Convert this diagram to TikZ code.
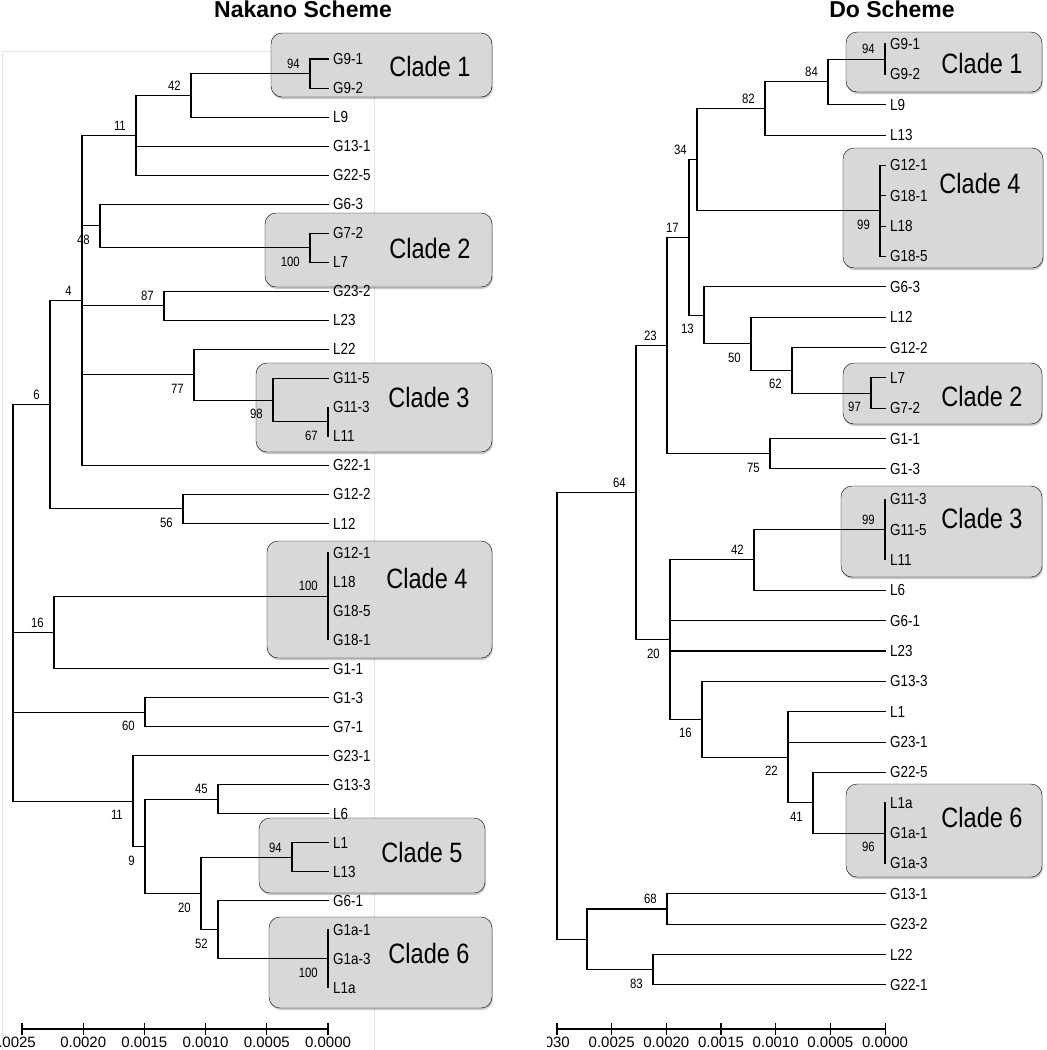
\documentclass[tikz,border=0pt]{standalone}
\usepackage{fontspec}
\setmainfont{Liberation Sans}
\newfontfamily\treefont[FakeStretch=0.84]{Liberation Sans}
\usetikzlibrary{calc,shadows}
\definecolor{cladegray}{RGB}{216,216,216}
\definecolor{framegray}{RGB}{230,230,230}

\begin{document}
\begin{tikzpicture}[x=1pt,y=-1pt,
  branch/.style={line width=1.05pt,line cap=rect},
  leaf/.style={anchor=west,inner sep=0pt,xshift=5pt,font=\treefont\fontsize{16}{16}\selectfont},
  bsa/.style={anchor=south east,inner sep=0pt,xshift=-10pt,yshift=5pt,font=\treefont\fontsize{13.5}{13.5}\selectfont},
  bsb/.style={anchor=north east,inner sep=0pt,xshift=-10pt,yshift=-9pt,font=\treefont\fontsize{13.5}{13.5}\selectfont},
  cladebox/.style={fill=cladegray,rounded corners=11pt,
    drop shadow={shadow xshift=0.8pt,shadow yshift=-2pt,fill=black,opacity=0.22}},
  cladetxt/.style={inner sep=0pt,font=\treefont\fontsize{28}{28}\selectfont},
  ttl/.style={anchor=base,inner sep=0pt,font=\bfseries\fontsize{23}{23}\selectfont},
  ticklbl/.style={anchor=north,inner sep=0pt,font=\fontsize{15}{15}\selectfont}]
\useasboundingbox (0,0) rectangle (1047,1050);

% Titles
\node[ttl] (ttlA) at (303,17.5) {Nakano Scheme};
\node[ttl] (ttlB) at (892,17.5) {Do Scheme};

% Frame of the left tree
\draw[framegray,line width=0.8pt] (2,1050) -- (2,51) -- (374,51) -- (374,1050);

% Clade boxes, left
\draw[cladebox] (271,33) rectangle (492,97);
\node[cladetxt] (cA1) at (430,66) {Clade 1};
\draw[cladebox] (265,213) rectangle (492,287);
\node[cladetxt] (cA2) at (430,248) {Clade 2};
\draw[cladebox] (256,363) rectangle (492,452);
\node[cladetxt] (cA3) at (429,397) {Clade 3};
\draw[cladebox] (267,541) rectangle (492,658);
\node[cladetxt] (cA4) at (427,578) {Clade 4};
\draw[cladebox] (259,818) rectangle (485,893);
\node[cladetxt] (cA5) at (422,852) {Clade 5};
\draw[cladebox] (269,917) rectangle (492,1008);
\node[cladetxt] (cA6) at (429,953) {Clade 6};

% Clade boxes, right
\draw[cladebox] (846,32) rectangle (1042,92);
\node[cladetxt] (cB1) at (982,63) {Clade 1};
\draw[cladebox] (843,148) rectangle (1043,268);
\node[cladetxt] (cB4) at (980,183) {Clade 4};
\draw[cladebox] (843,363) rectangle (1042,424);
\node[cladetxt] (cB2) at (982,396) {Clade 2};
\draw[cladebox] (841,486) rectangle (1042,577);
\node[cladetxt] (cB3) at (982,518) {Clade 3};
\draw[cladebox] (846,784) rectangle (1042,877);
\node[cladetxt] (cB6) at (982,817) {Clade 6};

% Nakano tree (y in leaf rows)
\begin{scope}[yshift=-59pt,y=-29.03pt]
\foreach \n/\lbl [count=\i from 0] in {G91/G9-1,G92/G9-2,L9/L9,G131/G13-1,G225/G22-5,
  G63/G6-3,G72/G7-2,L7/L7,G232/G23-2,L23/L23,L22/L22,G115/G11-5,G113/G11-3,L11/L11,
  G221/G22-1,G122/G12-2,L12/L12,G121/G12-1,L18/L18,G185/G18-5,G181/G18-1,G11/G1-1,
  G13/G1-3,G71/G7-1,G231/G23-1,G133/G13-3,L6/L6,L1/L1,L13/L13,G61/G6-1,
  G1a1/G1a-1,G1a3/G1a-3,L1a/L1a}{
  \coordinate (a\n) at (328,\i);
  \node[leaf] (ta\n) at (a\n) {\lbl};
}
\coordinate (a94) at (310,0.5);
\coordinate (a42) at (191,1.25);
\coordinate (a11) at (136,2.625);
\coordinate (a100b) at (310,6.5);
\coordinate (a48) at (100,5.75);
\coordinate (a87) at (164,8.5);
\coordinate (a67) at (328,12.5);
\coordinate (a98) at (273,11.75);
\coordinate (a77) at (194,10.875);
\coordinate (a4) at (82,8.3125);
\coordinate (a56) at (183,15.5);
\coordinate (a6) at (50,11.906);
\coordinate (a100d) at (328,18.5);
\coordinate (a16) at (54,19.75);
\coordinate (a60) at (145,22.5);
\coordinate (a45) at (218,25.5);
\coordinate (a94e) at (292,27.5);
\coordinate (a100f) at (328,31);
\coordinate (a52) at (218,30);
\coordinate (a20) at (201,28.75);
\coordinate (a9) at (145,27.125);
\coordinate (a11b) at (133,25.5625);
\coordinate (aR) at (13,18.734);
\foreach \p/\c in {a94/aG91,a94/aG92,a42/a94,a42/aL9,a11/a42,a11/aG131,a11/aG225,
  a100b/aG72,a100b/aL7,a48/aG63,a48/a100b,a87/aG232,a87/aL23,a67/aG113,a67/aL11,
  a98/aG115,a98/a67,a77/aL22,a77/a98,a4/a11,a4/a48,a4/a87,a4/a77,a4/aG221,
  a56/aG122,a56/aL12,a6/a4,a6/a56,a100d/aG121,a100d/aL18,a100d/aG185,a100d/aG181,
  a16/a100d,a16/aG11,a60/aG13,a60/aG71,a45/aG133,a45/aL6,a94e/aL1,a94e/aL13,
  a100f/aG1a1,a100f/aG1a3,a100f/aL1a,a52/aG61,a52/a100f,a20/a94e,a20/a52,
  a9/a45,a9/a20,a11b/aG231,a11b/a9,aR/a6,aR/a16,aR/a60,aR/a11b}
  \draw[branch] (\p) |- (\c);
\foreach \c/\v/\s in {a94/94/bsa,a42/42/bsa,a11/11/bsa,a100b/100/bsb,a48/48/bsb,
  a87/87/bsa,a67/67/bsb,a98/98/bsb,a77/77/bsb,a4/4/bsa,a56/56/bsb,a6/6/bsa,
  a100d/100/bsa,a16/16/bsa,a60/60/bsb,a45/45/bsa,a94e/94/bsa,a100f/100/bsb,
  a52/52/bsb,a20/20/bsb,a9/9/bsb,a11b/11/bsb}
  \node[\s] (s\c) at (\c) {\v};
\end{scope}

% Do tree (y in leaf rows)
\begin{scope}[yshift=-44pt,y=-30.35pt]
\foreach \n/\lbl [count=\i from 0] in {G91/G9-1,G92/G9-2,L9/L9,L13/L13,G121/G12-1,
  G181/G18-1,L18/L18,G185/G18-5,G63/G6-3,L12/L12,G122/G12-2,L7/L7,G72/G7-2,
  G11/G1-1,G13/G1-3,G113/G11-3,G115/G11-5,L11/L11,L6/L6,G61/G6-1,L23/L23,
  G133/G13-3,L1/L1,G231/G23-1,G225/G22-5,L1a/L1a,G1a1/G1a-1,G1a3/G1a-3,
  G131/G13-1,G232/G23-2,L22/L22,G221/G22-1}{
  \coordinate (b\n) at (885,\i);
  \node[leaf] (tb\n) at (b\n) {\lbl};
}
\coordinate (b94) at (885,0.5);
\coordinate (b84) at (828,1.25);
\coordinate (b82) at (765,2.125);
\coordinate (b99d) at (880,5.5);
\coordinate (b34) at (697,3.8125);
\coordinate (b97) at (871,11.5);
\coordinate (b62) at (792,10.75);
\coordinate (b50) at (751,9.875);
\coordinate (b13) at (704,8.9375);
\coordinate (b17) at (689,6.375);
\coordinate (b75) at (770,13.5);
\coordinate (b23) at (667,9.9375);
\coordinate (b99c) at (885,16);
\coordinate (b42) at (754,17);
\coordinate (b96) at (885,26);
\coordinate (b41) at (813,25);
\coordinate (b22) at (788,23.5);
\coordinate (b16) at (702,22.25);
\coordinate (b20) at (670,19.625);
\coordinate (b64) at (636,14.78125);
\coordinate (b68) at (667,28.5);
\coordinate (b83) at (653,30.5);
\coordinate (bN) at (587,29.5);
\coordinate (bR) at (557,22.14);
\foreach \p/\c in {b94/bG91,b94/bG92,b84/b94,b84/bL9,b82/b84,b82/bL13,
  b99d/bG121,b99d/bG181,b99d/bL18,b99d/bG185,b34/b82,b34/b99d,b97/bL7,b97/bG72,
  b62/bG122,b62/b97,b50/bL12,b50/b62,b13/bG63,b13/b50,b17/b34,b17/b13,
  b75/bG11,b75/bG13,b23/b17,b23/b75,b99c/bG113,b99c/bG115,b99c/bL11,
  b42/b99c,b42/bL6,b96/bL1a,b96/bG1a1,b96/bG1a3,b41/bG225,b41/b96,
  b22/bL1,b22/bG231,b22/b41,b16/bG133,b16/b22,b20/b42,b20/bG61,b20/bL23,b20/b16,
  b64/b23,b64/b20,b68/bG131,b68/bG232,b83/bL22,b83/bG221,bN/b68,bN/b83,bR/b64,bR/bN}
  \draw[branch] (\p) |- (\c);
\foreach \c/\v/\s in {b94/94/bsa,b84/84/bsa,b82/82/bsa,b34/34/bsa,b99d/99/bsb,
  b17/17/bsa,b23/23/bsa,b13/13/bsb,b50/50/bsb,b62/62/bsb,b97/97/bsb,b75/75/bsb,
  b64/64/bsa,b99c/99/bsa,b42/42/bsa,b20/20/bsb,b16/16/bsb,b22/22/bsb,b41/41/bsb,
  b96/96/bsb,b68/68/bsa,b83/83/bsb}
  \node[\s] (s\c) at (\c) {\v};
\end{scope}

% Scale bars
\foreach \v [count=\i from 0] in {0.0025,0.0020,0.0015,0.0010,0.0005,0.0000}{
  \coordinate (ax\i) at ({22+61.2*\i},1029);
  \draw[branch] (ax\i) ++(0,-5) -- ++(0,10);
}
\draw[branch] (ax0) -- (ax5);
\node[ticklbl,anchor=north east] (axl0) at ($(ax0)+(14,8)$) {0.0025};
\foreach \v [count=\i from 1] in {0.0020,0.0015,0.0010,0.0005,0.0000}
  \node[ticklbl] (axl\i) at ($(ax\i)+(0,8)$) {\v};

\foreach \v [count=\i from 0] in {0.0030,0.0025,0.0020,0.0015,0.0010,0.0005,0.0000}{
  \coordinate (bx\i) at ({557+54.67*\i},1029);
  \draw[branch] (bx\i) ++(0,-5) -- ++(0,10);
}
\draw[branch] (bx0) -- (bx6);
\begin{scope}
\clip (547,1000) rectangle (1047,1050);
\node[ticklbl,anchor=north east] (bxl0) at ($(bx0)+(13,8)$) {0.0030};
\end{scope}
\foreach \v [count=\i from 1] in {0.0025,0.0020,0.0015,0.0010,0.0005,0.0000}
  \node[ticklbl] (bxl\i) at ($(bx\i)+(0,8)$) {\v};
\end{tikzpicture}
\end{document}
